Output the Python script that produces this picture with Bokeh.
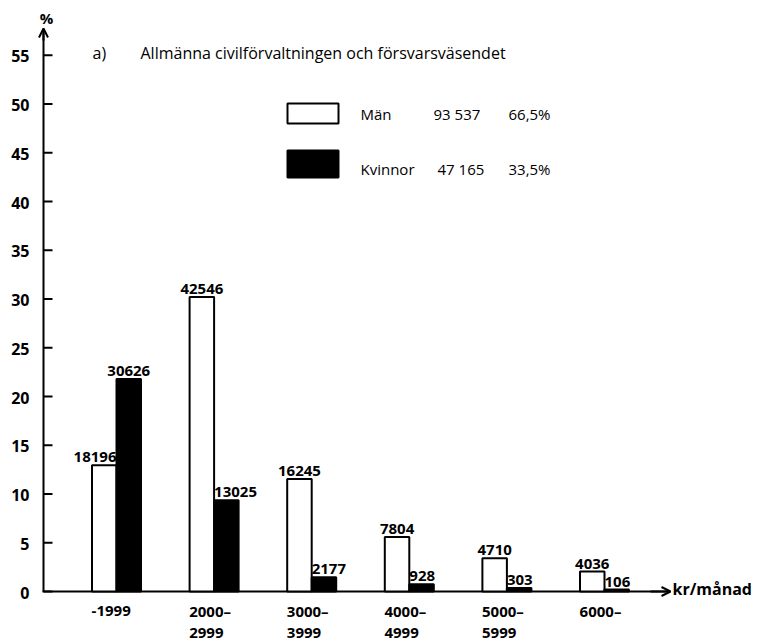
from bokeh.plotting import figure
from bokeh.models import Range1d, Arrow, OpenHead
from bokeh.core.properties import value
from bokeh.embed import file_html
from bokeh.resources import INLINE

# ---- data ----
cat_line1 = ["-1999", "2000\u2013", "3000\u2013", "4000\u2013", "5000\u2013", "6000\u2013"]
cat_line2 = ["", "2999", "3999", "4999", "5999", ""]
men_pct = [12.95, 30.2, 11.55, 5.6, 3.4, 2.05]
women_pct = [21.8, 9.35, 1.45, 0.75, 0.35, 0.2]
men_counts = ["18196", "42546", "16245", "7804", "4710", "4036"]
women_counts = ["30626", "13025", "2177", "928", "303", "106"]
y_ticks = [0, 5, 10, 15, 20, 25, 30, 35, 40, 45, 50, 55]
legend_names = ["Män", "Kvinnor"]
legend_totals = ["93 537", "47 165"]
legend_shares = ["66,5%", "33,5%"]
title_tag = "a)"
title_text = "Allmänna civilförvaltningen och försvarsväsendet"
y_unit = "%"
x_unit = "kr/månad"

# ---- geometry (figure pixels) ----
W, H = 761, 642
AXIS_X = 43      # px of the y-axis line
PX_X = 97.6      # px per group
PX_Y = 9.75      # px per percent
G0 = 116         # px of first group centre
Y0 = 591         # px of zero line
x_start = -G0 / PX_X
x_end = (W - G0) / PX_X
y_end = Y0 / PX_Y
y_start = (Y0 - H) / PX_Y
BW = 24.5 / PX_X


def X(px):
    return (px - G0) / PX_X


def Y(px):
    return (Y0 - px) / PX_Y


FONT = value("Open Sans")

p = figure(width=W, height=H, output_backend="svg", toolbar_location=None,
           x_range=Range1d(x_start, x_end), y_range=Range1d(y_start, y_end),
           min_border_left=0, min_border_right=0, min_border_top=0,
           min_border_bottom=0)
p.xaxis.visible = False
p.yaxis.visible = False
p.grid.visible = False
p.outline_line_color = None

n = len(cat_line1)
idx = list(range(n))

# y axis: line, ticks and tick labels
p.segment(x0=[X(AXIS_X)], y0=[0], x1=[X(AXIS_X)], y1=[Y(30)],
          line_color="black", line_width=2)
p.segment(x0=[X(AXIS_X)] * len(y_ticks), y0=y_ticks,
          x1=[X(AXIS_X + 9)] * len(y_ticks), y1=y_ticks,
          line_color="black", line_width=2)
p.add_layout(Arrow(end=OpenHead(size=9, line_width=2), x_start=X(AXIS_X), y_start=Y(40),
                   x_end=X(AXIS_X), y_end=Y(28), line_width=2))
p.text(x=[X(29)] * len(y_ticks), y=y_ticks, text=[str(t) for t in y_ticks],
       text_font=FONT, text_font_size="16px", text_font_style="bold",
       text_align="right", text_baseline="middle", y_offset=1)

# x axis line with arrow
p.segment(x0=[X(AXIS_X - 1)], y0=[0], x1=[X(668)], y1=[0],
          line_color="black", line_width=2)
p.add_layout(Arrow(end=OpenHead(size=9, line_width=2), x_start=X(650), y_start=0,
                   x_end=X(670), y_end=0, line_width=2))

# bars
p.vbar(x=[i - BW / 2 for i in idx], top=men_pct, bottom=0, width=BW,
       fill_color="white", line_color="black", line_width=2)
p.vbar(x=[i + BW / 2 for i in idx], top=women_pct, bottom=0, width=BW,
       fill_color="black", line_color="black", line_width=2)

# bar value labels
groups = {"center": ([], [], []), "right": ([], [], []), "left": ([], [], [])}
for i in idx:
    m, w = men_pct[i], women_pct[i]
    if m >= w:
        groups["center"][0].append(i - BW / 2); groups["center"][1].append(m); groups["center"][2].append(men_counts[i])
        groups["left"][0].append(i); groups["left"][1].append(w); groups["left"][2].append(women_counts[i])
    else:
        groups["right"][0].append(i); groups["right"][1].append(m); groups["right"][2].append(men_counts[i])
        groups["center"][0].append(i + BW / 2); groups["center"][1].append(w); groups["center"][2].append(women_counts[i])
for align, (xs, ys, ts) in groups.items():
    if xs:
        p.text(x=xs, y=ys, text=ts, text_font=FONT, text_font_size="15px",
               text_font_style="bold", text_align=align, text_baseline="bottom",
               y_offset=-3, text_color="black")

# unit labels
p.text(x=[X(46)], y=[Y(17)], text=[y_unit], text_font=FONT,
       text_font_size="15px", text_font_style="bold", text_align="center",
       text_baseline="middle")
p.text(x=[X(672)], y=[Y(588)], text=[x_unit], text_font=FONT,
       text_font_size="16px", text_font_style="bold", text_align="left",
       text_baseline="middle")

# category labels
p.text(x=[i - 0.255 for i in idx], y=[Y(610)] * n, text=cat_line1,
       text_font=FONT, text_font_size="15px", text_font_style="bold",
       text_align="left", text_baseline="middle")
p.text(x=[i - 0.255 for i in idx], y=[Y(632)] * n, text=cat_line2,
       text_font=FONT, text_font_size="15px", text_font_style="bold",
       text_align="left", text_baseline="middle")

# title
p.text(x=[X(92)], y=[Y(52)], text=[title_tag], text_font=FONT,
       text_font_size="16px", text_align="left", text_baseline="middle")
p.text(x=[X(140)], y=[Y(52)], text=[title_text], text_font=FONT,
       text_font_size="16px", text_align="left", text_baseline="middle")

# legend
p.quad(left=[X(287)], right=[X(338)], top=[Y(103)], bottom=[Y(123)],
       fill_color="white", line_color="black", line_width=2)
p.quad(left=[X(287)], right=[X(338)], top=[Y(150)], bottom=[Y(177)],
       fill_color="black", line_color="black", line_width=2)
leg_y = [Y(113), Y(168)]
p.text(x=[X(360)] * 2, y=leg_y, text=legend_names, text_font=FONT,
       text_font_size="15px", text_align="left", text_baseline="middle")
p.text(x=[X(433), X(437)], y=leg_y, text=legend_totals,
       text_font=FONT, text_font_size="15px", text_align="left", text_baseline="middle")
p.text(x=[X(508)] * 2, y=leg_y, text=legend_shares, text_font=FONT,
       text_font_size="15px", text_align="left", text_baseline="middle")

open("out.html", "w").write(file_html(p, INLINE))
